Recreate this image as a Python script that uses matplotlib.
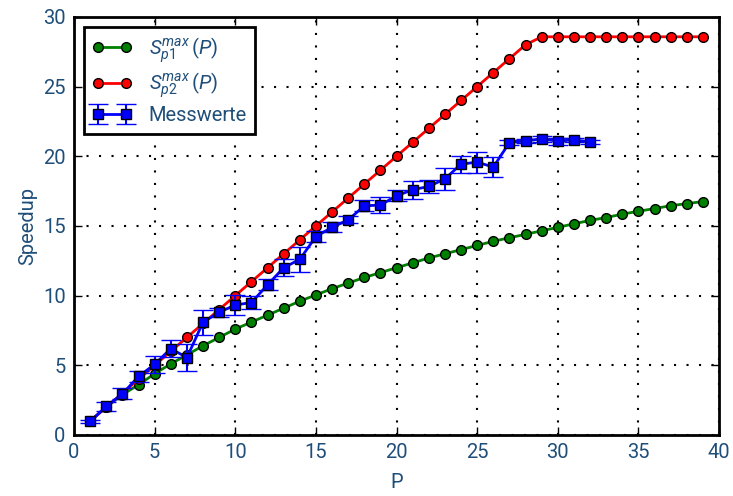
import numpy as np
import matplotlib
matplotlib.use("Agg")
import matplotlib.pyplot as plt

# data
p_model = list(range(1, 40))
s_p1 = [1.0, 2.0, 2.9, 3.6, 4.4, 5.1, 5.75, 6.4, 7.0, 7.6,
        8.1, 8.6, 9.1, 9.6, 10.05, 10.5, 10.9, 11.3, 11.65, 12.0,
        12.35, 12.7, 13.0, 13.3, 13.6, 13.9, 14.15, 14.4, 14.65, 14.9,
        15.15, 15.4, 15.6, 15.85, 16.05, 16.25, 16.45, 16.6, 16.75]
s_p2 = [1, 2, 3, 4, 5, 6, 7, 8, 9, 10,
        11, 12, 13, 14, 15, 16, 17, 18, 19, 20,
        21, 22, 23, 24, 25, 26, 27, 28, 28.57, 28.57,
        28.57, 28.57, 28.57, 28.57, 28.57, 28.57, 28.57, 28.57, 28.57]

p_meas = list(range(1, 33))
messwerte = [0.97, 2.05, 2.95, 4.2, 5.07, 6.2, 5.55, 8.1, 8.8, 9.33,
             9.5, 10.77, 12.0, 12.6, 14.24, 14.9, 15.43, 16.44, 16.5, 17.16,
             17.6, 17.83, 18.38, 19.43, 19.58, 19.22, 20.98, 21.1, 21.25, 21.08,
             21.18, 21.01]
mess_err = [0.1, 0.35, 0.4, 0.4, 0.6, 0.6, 0.95, 0.9, 0.3, 0.7,
            0.45, 0.4, 0.6, 0.9, 0.4, 0.35, 0.25, 0.4, 0.6, 0.4,
            0.65, 0.45, 0.8, 0.6, 0.75, 0.7, 0.15, 0.15, 0.2, 0.25,
            0.15, 0.15]

txt = "#1f4e79"
plt.rcParams['font.family'] = ['Roboto', 'DejaVu Sans']
plt.rcParams['mathtext.fontset'] = 'custom'
plt.rcParams['mathtext.rm'] = 'Roboto'
plt.rcParams['mathtext.it'] = 'Roboto:italic'

fig = plt.figure(figsize=(7.33, 4.96), dpi=100)
ax = fig.add_axes([0.101, 0.123, 0.880, 0.843])

ax.plot(p_model, s_p1, '-o', color='#008000', lw=2, ms=7, mec='k', mew=1,
        label=r'$S_{p1}^{max}\,(P)$')
ax.plot(p_model, s_p2, '-o', color='#ff0000', lw=2, ms=7, mec='k', mew=1,
        label=r'$S_{p2}^{max}\,(P)$')
ax.errorbar(p_meas, messwerte, yerr=mess_err, fmt='-s', color='#0000ff', lw=2,
            ms=7, mec='k', mew=1, ecolor='#0000ff', elinewidth=1.5,
            capsize=7, capthick=1.5, label='Messwerte')

ax.set_xlim(0, 40)
ax.set_ylim(0, 30)
ax.set_xticks(np.arange(0, 41, 5))
ax.set_yticks(np.arange(0, 31, 5))
ax.grid(True, color='k', linestyle=(0, (1, 5)), linewidth=1.5)
for s in ax.spines.values():
    s.set_linewidth(2)
ax.tick_params(direction='in', top=True, right=True, length=6, width=1,
               labelsize=14.5, labelcolor=txt, pad=6)
ax.set_xlabel('P', fontsize=14.5, color=txt, labelpad=8)
ax.set_ylabel('Speedup', fontsize=14.5, color=txt, labelpad=4)

leg = ax.legend(loc='upper left', fontsize=14.5, fancybox=False, framealpha=1,
                edgecolor='k', numpoints=2, handlelength=2.0,
                borderaxespad=0.5, labelspacing=0.3)
leg.get_frame().set_linewidth(2)
for t in leg.get_texts():
    t.set_color(txt)

fig.savefig('out.png', dpi=100)
